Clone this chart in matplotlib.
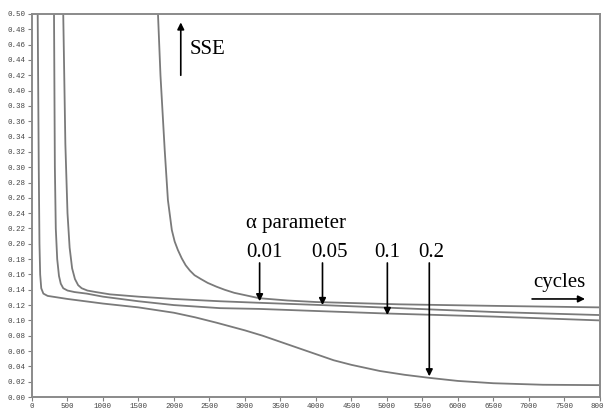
import matplotlib.pyplot as plt
import numpy as np

# SSE vs cycles for several alpha values
c_02 = [80, 95, 105, 115, 130, 160, 220, 500, 1000, 1500, 2000, 2300, 2600, 2800, 3000, 3250, 3500, 3750, 4000,
        4250, 4500, 4900, 5250, 5600, 6000, 6500, 7200, 8000]
s_02 = [0.50, 0.30, 0.20, 0.16, 0.142, 0.135, 0.132, 0.128, 0.122, 0.117, 0.110, 0.104, 0.097, 0.092, 0.087, 0.080,
        0.072, 0.064, 0.056, 0.048, 0.042, 0.034, 0.029, 0.025, 0.021, 0.018, 0.016, 0.0155]

c_01 = [310, 322, 335, 355, 380, 405, 440, 500, 600, 770, 1000, 1500, 2000, 2650, 3200, 4090, 5000, 6500, 8000]
s_01 = [0.50, 0.30, 0.22, 0.18, 0.158, 0.148, 0.142, 0.139, 0.137, 0.135, 0.131, 0.125, 0.120, 0.116, 0.115, 0.112,
        0.109, 0.105, 0.100]

c_005 = [440, 470, 500, 530, 565, 605, 650, 700, 780, 900, 1100, 1500, 2000, 2650, 3200, 4090, 5175, 6500, 8000]
s_005 = [0.50, 0.33, 0.24, 0.195, 0.168, 0.154, 0.146, 0.142, 0.139, 0.137, 0.134, 0.131, 0.128, 0.125, 0.123, 0.120,
         0.116, 0.111, 0.107]

c_001 = [1775, 1810, 1870, 1915, 1970, 2010, 2055, 2110, 2165, 2225, 2290, 2380, 2475, 2600, 2715, 2850, 3000, 3200,
         3600, 4000, 5175, 6500, 8000]
s_001 = [0.50, 0.42, 0.322, 0.257, 0.218, 0.203, 0.192, 0.181, 0.172, 0.165, 0.159, 0.154, 0.149, 0.144, 0.140, 0.136,
         0.133, 0.129, 0.126, 0.124, 0.121, 0.119, 0.117]

alpha_labels = ['0.01', '0.05', '0.1', '0.2']
label_x = [3277, 4190, 5000, 5620]
arrow_x = [3207, 4093, 5007, 5598]
arrow_tip = [0.125, 0.120, 0.107, 0.027]

fig = plt.figure(figsize=(6.04, 4.09), dpi=100)
ax = fig.add_axes([0.053, 0.0293, 0.94, 0.9365])

gray = '#7a7a7a'
for c, s in [(c_02, s_02), (c_01, s_01), (c_005, s_005), (c_001, s_001)]:
    ax.plot(c, s, color=gray, lw=1.3)

ax.set_xlim(0, 8000)
ax.set_ylim(0, 0.5)
ax.set_xticks(np.arange(0, 8001, 500))
ax.set_yticks(np.arange(0, 0.501, 0.02))
ax.set_yticklabels(['%.2f' % v for v in np.arange(0, 0.501, 0.02)])
ax.tick_params(labelsize=5.4, length=3, width=0.8, color='#808080', labelcolor='#444444', pad=1.5)
for lab in ax.get_xticklabels() + ax.get_yticklabels():
    lab.set_family('Liberation Mono')
for sp in ax.spines.values():
    sp.set_color('#8a8a8a')
    sp.set_linewidth(1.4)

serif = 'Liberation Serif'
arr = dict(arrowstyle='-|>', color='black', lw=1.2, mutation_scale=10, shrinkA=0, shrinkB=0)

# SSE
ax.annotate('', xy=(2096, 0.489), xytext=(2096, 0.420), arrowprops=arr)
ax.text(2222, 0.453, 'SSE', fontsize=15, family=serif, va='center', ha='left')

# alpha parameter
ax.text(3010, 0.226, 'α parameter', fontsize=15, family=serif, va='center', ha='left')
for lab, lx, axx, tip in zip(alpha_labels, label_x, arrow_x, arrow_tip):
    ax.text(lx, 0.188, lab, fontsize=15, family=serif, va='center', ha='center')
    ax.annotate('', xy=(axx, tip), xytext=(axx, 0.175), arrowprops=arr)

# cycles
ax.text(7425, 0.150, 'cycles', fontsize=15, family=serif, va='center', ha='center')
ax.annotate('', xy=(7792, 0.128), xytext=(7046, 0.128), arrowprops=arr)

fig.savefig('out.png', dpi=100)
